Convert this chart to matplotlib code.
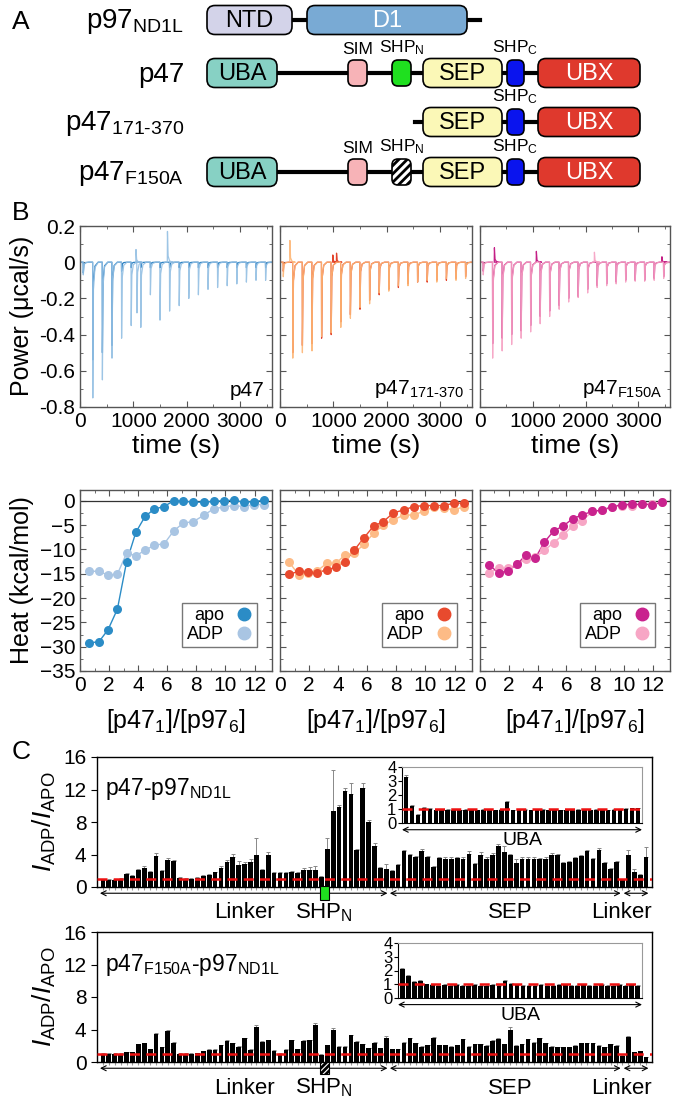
import numpy as np
import matplotlib
matplotlib.use('Agg')
import matplotlib.pyplot as plt
import matplotlib.transforms as mtransforms
from matplotlib.patches import FancyBboxPatch, Rectangle
from matplotlib.lines import Line2D

plt.rcParams['font.family'] = ['Liberation Sans', 'DejaVu Sans']
plt.rcParams['mathtext.fontset'] = 'custom'
plt.rcParams['mathtext.rm'] = 'Liberation Sans'
plt.rcParams['mathtext.it'] = 'Liberation Sans:italic'
plt.rcParams['mathtext.bf'] = 'Liberation Sans:bold'
plt.rcParams['hatch.linewidth'] = 2.0

W, H = 677, 1104

# ---------------- data ----------------
# panel A: construct labels and domains (diagram units = pixels)
row_labels = ['p97$_{\\mathrm{ND1L}}$', 'p47', 'p47$_{\\mathrm{171\u2010370}}$', 'p47$_{\\mathrm{F150A}}$']
p97_domains = [('NTD', 207, 292, '#d3d3e9', 'black'), ('D1', 307, 467, '#79aad4', 'white')]
p47_domains = [('UBA', 207, 277, '#87d1c4', 'black'), ('SIM', 348, 367, '#f7b3b7', None),
               ('SHPN', 392, 411, '#1fe01f', None), ('SEP', 423, 502, '#fbf8b7', 'black'),
               ('SHPC', 507, 524, '#0a14ee', None), ('UBX', 538, 640, '#df392d', 'white')]

# panel B top: thermogram injections (time s, peak power ucal/s)
inj_t = [62, 240, 420, 600, 780, 960, 1140, 1320, 1500, 1680, 1860, 2040, 2220, 2400, 2580, 2760, 2940, 3120, 3300, 3480]
p47_adp_pk = [-0.07, -0.75, -0.65, -0.53, -0.42, -0.35, -0.36, -0.18, -0.32, -0.27, -0.24, -0.20, -0.18, -0.15, -0.14, -0.13, -0.12, -0.11, -0.10, -0.10]
p47_adp_extra = [(1050, 0.07), (1068, -0.28), (1640, 0.17)]
p47_apo_pk = [-0.06, -0.54, -0.50, -0.46, -0.05, -0.03, -0.03, -0.03, -0.03, -0.03, -0.03, -0.03, -0.03, -0.03, -0.03, -0.03, -0.03, -0.03, -0.03, -0.03]
p171_adp_pk = [-0.08, -0.53, -0.50, -0.49, -0.41, -0.39, -0.36, -0.31, -0.25, -0.23, -0.17, -0.16, -0.13, -0.13, -0.11, -0.10, -0.11, -0.09, -0.10, -0.09]
p171_adp_extra = [(186, 0.12)]
p171_apo_pk = [-0.05, -0.50, -0.46, -0.45, -0.42, -0.40, -0.33, -0.29, -0.26, -0.21, -0.18, -0.15, -0.14, -0.12, -0.11, -0.11, -0.10, -0.10, -0.09, -0.08]
p171_apo_extra = [(990, 0.04), (1060, 0.05)]
f150_adp_pk = [-0.07, -0.53, -0.49, -0.455, -0.42, -0.385, -0.34, -0.30, -0.26, -0.22, -0.195, -0.17, -0.14, -0.13, -0.12, -0.11, -0.105, -0.105, -0.10, -0.09]
f150_adp_extra = [(2168, 0.055)]
f150_apo_pk = [-0.05, -0.45, -0.42, -0.40, -0.38, -0.35, -0.30, -0.27, -0.24, -0.20, -0.19, -0.15, -0.13, -0.12, -0.11, -0.10, -0.10, -0.10, -0.09, -0.08]
f150_apo_extra = [(273, 0.08), (1068, 0.06), (3447, 0.03)]

# panel B bottom: integrated heats (kcal/mol) vs molar ratio
ratio = [0.65, 1.3, 1.93, 2.57, 3.2, 3.84, 4.48, 5.12, 5.78, 6.44, 7.1, 7.8, 8.5, 9.2, 9.88, 10.56, 11.26, 11.96, 12.66]
p47_apo = [-29.2, -29.0, -26.5, -22.3, -12.6, -6.5, -3.2, -1.7, -1.2, 0.0, -0.1, -0.3, -0.3, -0.15, 0.0, 0.1, -0.3, -0.2, 0.1]
p47_adp = [-14.5, -14.5, -15.3, -15.1, -10.8, -11.3, -10.2, -9.1, -8.9, -6.2, -4.6, -4.3, -3.0, -1.65, -1.3, -1.0, -1.2, -0.8, -0.8]
p171_apo = [-15.1, -14.5, -14.6, -14.8, -14.2, -13.7, -12.5, -10.1, -7.6, -5.2, -4.3, -2.5, -1.9, -1.2, -1.0, -1.0, -1.0, -0.5, -0.5]
p171_adp = [-12.7, -15.3, -14.8, -14.4, -12.9, -12.9, -11.1, -10.8, -8.9, -6.7, -5.0, -3.9, -3.0, -2.9, -2.2, -1.3, -1.5, -1.9, -1.2]
f150_apo = [-13.2, -14.9, -14.4, -13.1, -11.1, -11.8, -8.5, -6.2, -5.2, -3.7, -2.9, -2.2, -1.9, -1.2, -0.8, -0.75, -0.75, -0.8, -0.35]
f150_adp = [-14.8, -13.9, -13.9, -13.1, -12.0, -11.6, -10.2, -8.6, -7.0, -5.2, -4.1, -2.2, -2.0, -1.3, -1.0, -1.0, -0.75, -0.6, -0.35]

# panel C: intensity ratios per residue
wt_ratio = [0.9, 0.9, 0.9, 1.0, 1.6, 1.4, 2.1, 2.4, 1.9, 3.8,
            2.0, 3.3, 3.2, 1.1, 1.0, 1.0, 1.1, 1.4, 1.5, 1.8,
            2.4, 3.1, 3.7, 2.7, 2.8, 3.1, 3.9, 2.1, 4.0, 1.7,
            1.7, 1.7, 1.8, 1.7, 2.1, 2.1, 2.1, 1.2, 4.7, 9.4,
            9.9, 11.8, 11.4, 4.5, 12.2, 8.0, 5.0, 2.4, 2.2, 2.0,
            2.7, 4.4, 3.9, 3.7, 4.4, 3.7, 2.5, 3.6, 3.5, 3.5,
            3.6, 3.5, 4.1, 2.8, 4.0, 3.5, 4.0, 5.1, 4.3, 3.9,
            2.9, 3.5, 3.5, 3.5, 3.4, 3.5, 4.0, 3.9, 3.0, 3.1,
            3.6, 3.8, 4.4, 3.4, 4.5, 3.0, 2.2, 3.1, 0.9, 4.0,
            1.8, 1.5, 3.7]
wt_err = [0.1, 0.1, 0.1, 0.1, 0.1, 0.1, 0.1, 0.15, 0.1, 0.35,
          0.1, 0.3, 0.1, 0.1, 0.1, 0.1, 0.1, 0.1, 0.1, 0.1,
          0.15, 0.2, 0.4, 0.45, 0.3, 0.35, 2.1, 0.1, 0.3, 0.1,
          0.1, 0.1, 0.15, 0.1, 0.3, 0.35, 0.45, 0.15, 1.3, 5.0,
          0.25, 0.4, 1.4, 0.15, 0.6, 0.2, 0.4, 0.1, 0.6, 0.1,
          0.1, 0.2, 0.15, 0.1, 0.3, 0.15, 0.1, 0.15, 0.15, 0.15,
          0.15, 0.15, 0.3, 0.1, 0.3, 0.2, 0.15, 0.2, 0.8, 0.2,
          0.6, 0.15, 0.15, 0.15, 0.2, 0.15, 0.2, 0.15, 0.1, 0.1,
          0.15, 0.2, 0.2, 0.15, 0.3, 0.1, 0.1, 0.1, 0.0, 0.6,
          0.4, 0.1, 1.2]
mut_ratio = [1.0, 1.0, 1.0, 1.0, 1.2, 1.2, 2.2, 2.3, 1.6, 3.5,
             1.8, 3.8, 2.4, 1.0, 1.0, 1.0, 1.1, 1.3, 1.5, 1.5,
             2.1, 2.6, 2.3, 1.9, 2.9, 1.5, 4.3, 2.5, 2.7, 1.4,
             1.0, 1.5, 2.7, 1.6, 2.6, 2.7, 4.5, 0.9, 2.1, 3.9,
             1.9, 1.9, 3.3, 2.5, 2.2, 1.7, 2.4, 1.7, 3.0, 1.6,
             1.6, 2.4, 2.9, 2.3, 1.9, 2.1, 3.0, 2.1, 2.1, 1.9,
             2.1, 2.8, 1.9, 2.2, 2.2, 2.0, 2.6, 2.8, 2.2, 3.9,
             2.0, 2.2, 2.8, 2.4, 2.9, 2.3, 1.9, 1.8, 1.8, 1.8,
             2.0, 2.3, 2.3, 2.3, 2.0, 1.8, 2.2, 2.0, 0.8, 3.1,
             1.2, 1.3, 0.6]
mut_err = [0.05, 0.05, 0.05, 0.05, 0.05, 0.05, 0.05, 0.05, 0.05, 0.05,
           0.05, 0.1, 0.05, 0.05, 0.05, 0.05, 0.05, 0.05, 0.05, 0.05,
           0.05, 0.05, 0.05, 0.05, 0.05, 0.05, 0.3, 0.05, 0.05, 0.05,
           0.05, 0.05, 0.05, 0.05, 0.05, 0.05, 0.35, 0.05, 0.05, 0.25,
           0.05, 0.05, 0.05, 0.05, 0.05, 0.05, 0.05, 0.05, 0.2, 0.05,
           0.05, 0.05, 0.05, 0.05, 0.05, 0.05, 0.05, 0.05, 0.05, 0.05,
           0.05, 0.05, 0.05, 0.05, 0.05, 0.05, 0.05, 0.15, 0.05, 0.35,
           0.05, 0.05, 0.05, 0.05, 0.05, 0.05, 0.05, 0.05, 0.05, 0.05,
           0.05, 0.05, 0.05, 0.05, 0.05, 0.05, 0.05, 0.05, 0.05, 0.05,
           0.05, 0.05, 0.05]
wt_uba = [3.3, 1.2, 0.6, 1.1, 1.0, 0.9, 0.9, 0.95, 0.95, 0.9,
          0.95, 0.95, 0.9, 0.95, 0.95, 0.9, 0.95, 1.5, 0.9, 0.9,
          0.95, 0.9, 0.9, 0.95, 0.9, 0.95, 0.9, 0.9, 0.95, 0.95,
          0.9, 0.9, 0.95, 0.9, 0.9, 0.95, 0.9, 1.0, 1.05, 1.05]
wt_uba_err = [0.15, 0.08] + [0.04] * 38
mut_uba = [2.1, 1.6, 1.2, 1.25, 1.0, 0.95, 0.9, 0.95, 0.9, 0.95,
           0.9, 0.9, 0.95, 0.9, 0.9, 0.95, 0.9, 1.25, 1.05, 0.95,
           0.9, 0.9, 0.9, 0.95, 0.9, 0.9, 0.95, 0.95, 0.9, 0.9,
           0.95, 0.9, 0.9, 0.95, 0.9, 0.9, 0.95, 0.9, 0.95, 0.9]
mut_uba_err = [0.05] * 40
regions = [('Linker', 0.5, 49.2, 25), ('SEP', 49.6, 88.7, 70), ('Linker', 89.2, 93.4, 88.8)]
shpn_pos = 38.5


def frac(x0, y0, x1, y1):
    return [x0 / W, 1 - y1 / H, (x1 - x0) / W, (y1 - y0) / H]


fig = plt.figure(figsize=(W / 100, H / 100), dpi=100)

# ---------------- panel A ----------------
axA = fig.add_axes([0, 1 - 215 / H, 1, 215 / H])
axA.set_xlim(0, W)
axA.set_ylim(215, 0)
axA.axis('off')


def draw_box(ax, x0, x1, yc, color, small=False, hatch=None):
    hh = 13 if small else 14.5
    box = FancyBboxPatch((x0, yc - hh), x1 - x0, 2 * hh,
                         boxstyle='round,pad=0,rounding_size=%d' % (6 if small else 8),
                         facecolor=color, edgecolor='black', lw=1.2, hatch=hatch, zorder=3)
    ax.add_patch(box)


small_names = {'SIM', 'SHPN', 'SHPC'}
label_text = {'SIM': 'SIM', 'SHPN': 'SHP$_{\\mathrm{N}}$', 'SHPC': 'SHP$_{\\mathrm{C}}$'}
row_y = [20, 73, 122, 172]

for lab, yc in zip(row_labels, row_y):
    axA.text(184, yc + 2, lab, ha='right', va='center', fontsize=20)

# p97
axA.plot([292, 480], [row_y[0], row_y[0]], color='black', lw=3, zorder=1)
for name, x0, x1, col, tc in p97_domains:
    draw_box(axA, x0, x1, row_y[0], col)
    axA.text((x0 + x1) / 2, row_y[0] + 1, name, ha='center', va='center', fontsize=17, color=tc, zorder=4)

# p47 rows
for ri, keep, hatch_shpn in [(1, None, False), (2, {'SEP', 'SHPC', 'UBX'}, False), (3, None, True)]:
    yc = row_y[ri]
    start = 277 if keep is None else 415
    axA.plot([start, 538], [yc, yc], color='black', lw=3, zorder=1)
    for name, x0, x1, col, tc in p47_domains:
        if keep is not None and name not in keep:
            continue
        small = name in small_names
        if name == 'SHPN' and hatch_shpn:
            draw_box(axA, x0, x1, yc, 'white', small=True, hatch='////')
        else:
            draw_box(axA, x0, x1, yc, col, small=small)
        if small:
            axA.text((x0 + x1) / 2, yc - 16, label_text[name], ha='center', va='bottom', fontsize=12.5)
        else:
            axA.text((x0 + x1) / 2, yc + 1, name, ha='center', va='center', fontsize=17, color=tc, zorder=4)

fig.text(12 / W, 1 - 22 / H, 'A', fontsize=19, va='center')
fig.text(12 / W, 1 - 213 / H, 'B', fontsize=19, va='center')
fig.text(12 / W, 1 - 752 / H, 'C', fontsize=19, va='center')

# ---------------- panel B ----------------
cols = [80, 272], [280, 472], [480, 670]
names_B = ['p47', 'p47$_{\\mathrm{171\u2010370}}$', 'p47$_{\\mathrm{F150A}}$']
light = ['#93bfe3', '#fdb574', '#f6a0c2']
dark = ['#2a80c2', '#e3442c', '#c41f86']
adp_pk = [p47_adp_pk, p171_adp_pk, f150_adp_pk]
adp_extra = [p47_adp_extra, p171_adp_extra, f150_adp_extra]
apo_pk = [p47_apo_pk, p171_apo_pk, f150_apo_pk]
apo_extra = [[], p171_apo_extra, f150_apo_extra]
heat_apo = [p47_apo, p171_apo, f150_apo]
heat_adp = [p47_adp, p171_adp, f150_adp]
heat_apo_c = ['#2b8cc6', '#e84a2e', '#c9238e']
heat_adp_c = ['#a9c5e3', '#fdbb86', '#f7a6c5']


def trace(times, peaks, extra, t_end=3600):
    ev = sorted(list(zip(times, peaks)) + list(extra))
    xs, ys = [0], [0]
    for t, d in ev:
        xs += [t - 3, t, t + 12, t + 40, t + 100]
        ys += [0, d, d * 0.2, d * 0.04, 0]
    xs.append(t_end)
    ys.append(0)
    return xs, ys


def style_axes(ax):
    for s in ax.spines.values():
        s.set_color('#555555')
        s.set_linewidth(1.0)
    ax.tick_params(which='both', direction='in', top=True, right=True, colors='#555555',
                   labelcolor='black', labelsize=15)
    ax.tick_params(which='major', length=4)
    ax.tick_params(which='minor', length=2)


for i in range(3):
    x0, x1 = cols[i]
    ax = fig.add_axes(frac(x0, 226, x1, 407))
    ax.plot(*trace(inj_t, apo_pk[i], apo_extra[i]), color=dark[i], lw=0.9)
    ax.plot(*trace(inj_t, adp_pk[i], adp_extra[i]), color=light[i], lw=0.9, alpha=0.9)
    ax.set_xlim(0, 3600)
    ax.set_ylim(-0.8, 0.2)
    ax.set_xticks([0, 1000, 2000, 3000])
    ax.set_xticks(np.arange(500, 3600, 1000), minor=True)
    ax.set_yticks(np.arange(-0.8, 0.21, 0.2))
    ax.set_yticks(np.arange(-0.7, 0.2, 0.2), minor=True)
    ax.set_yticklabels(['-0.8', '-0.6', '-0.4', '-0.2', '0', '0.2'])
    style_axes(ax)
    if i > 0:
        ax.tick_params(labelleft=False)
    ax.set_xlabel('time (s)', fontsize=19, labelpad=2)
    ax.text(0.96, 0.04, names_B[i], transform=ax.transAxes, ha='right', va='bottom', fontsize=15)

    axh = fig.add_axes(frac(x0, 490, x1, 671))
    axh.axhline(0, color='#333333', lw=0.9)
    axh.plot(ratio, heat_adp[i], '-', color=heat_adp_c[i], lw=1.0)
    axh.plot(ratio, heat_apo[i], '-', color=heat_apo_c[i], lw=1.0)
    axh.plot(ratio, heat_adp[i], 'o', color=heat_adp_c[i], ms=6.5, mec='none')
    axh.plot(ratio, heat_apo[i], 'o', color=heat_apo_c[i], ms=6.5, mec='none')
    axh.set_xlim(0, 13.2)
    axh.set_ylim(-35, 2.2)
    axh.set_xticks(np.arange(0, 13, 2))
    axh.set_xticks(np.arange(1, 13, 2), minor=True)
    axh.set_yticks(np.arange(-35, 1, 5))
    axh.set_yticks(np.arange(-32.5, 1, 5), minor=True)
    style_axes(axh)
    if i > 0:
        axh.tick_params(labelleft=False)
    axh.set_xlabel('[p47$_1$]/[p97$_6$]', fontsize=18, labelpad=9)
    hd = [Line2D([], [], marker='o', ls='', color=heat_apo_c[i], ms=9),
          Line2D([], [], marker='o', ls='', color=heat_adp_c[i], ms=9)]
    leg = axh.legend(hd, ['apo', 'ADP'], loc='lower right', markerfirst=False, fontsize=13,
                     fancybox=False, edgecolor='#777777', framealpha=1, borderpad=0.25,
                     labelspacing=0.1, handletextpad=0.6, handlelength=1.0,
                     bbox_to_anchor=(0.97, 0.08))
    leg.get_frame().set_linewidth(1.0)

fig.text(22 / W, 1 - 316 / H, 'Power (\u03bccal/s)', rotation=90, ha='center', va='center', fontsize=18)
fig.text(22 / W, 1 - 580 / H, 'Heat (kcal/mol)', rotation=90, ha='center', va='center', fontsize=18)

# ---------------- panel C ----------------


def profile(box, vals, errs, title, inset_box, ivals, ierrs, hatch):
    ax = fig.add_axes(frac(*box))
    n = len(vals)
    x = np.arange(1, n + 1)
    ax.bar(x, vals, width=0.8, color='black', zorder=2)
    ax.errorbar(x, vals, yerr=[np.zeros(n), errs], fmt='none', ecolor='#888888',
                elinewidth=0.7, capsize=1.3, capthick=0.7, zorder=1)
    ax.axhline(1, color='#ee1111', lw=1.8, ls=(0, (4, 2.5)), zorder=3)
    ax.set_xlim(0, 94)
    ax.set_ylim(0, 16)
    ax.set_yticks([0, 4, 8, 12, 16])
    ax.set_xticks(x)
    ax.tick_params(axis='x', length=2, color='#999999', labelbottom=False)
    ax.tick_params(axis='y', labelsize=15, length=4)
    for s in ax.spines.values():
        s.set_linewidth(1.0)
    ax.text(0.014, 0.75, title, transform=ax.transAxes, ha='left', va='center', fontsize=16.5)
    ax.set_ylabel('$I_{\\mathrm{ADP}}/I_{\\mathrm{APO}}$', fontsize=19, labelpad=4)
    tr = mtransforms.blended_transform_factory(ax.transData, ax.transAxes)
    for name, a, b, lx in regions:
        ax.annotate('', xy=(b, -0.048), xytext=(a, -0.048), xycoords=tr, textcoords=tr,
                    arrowprops=dict(arrowstyle='<->', lw=0.8, color='black',
                                    shrinkA=0, shrinkB=0, mutation_scale=9))
        ax.text(lx, -0.2, name, transform=tr, ha='center', va='center', fontsize=16, clip_on=False)
    ax.text(shpn_pos, -0.2, 'SHP$_{\\mathrm{N}}$', transform=tr, ha='center', va='center', fontsize=16)
    if hatch:
        r = Rectangle((shpn_pos - 0.75, -0.095), 1.5, 0.095, transform=tr, facecolor='white',
                      edgecolor='black', lw=0.8, hatch='//////', clip_on=False, zorder=5)
    else:
        r = Rectangle((shpn_pos - 0.8, -0.1), 1.6, 0.105, transform=tr, facecolor='#1fe01f',
                      edgecolor='black', lw=0.8, clip_on=False, zorder=5)
    ax.add_patch(r)

    axi = fig.add_axes(frac(*inset_box))
    m = len(ivals)
    xi = np.arange(1, m + 1)
    axi.bar(xi, ivals, width=0.78, color='black', zorder=2)
    axi.errorbar(xi, ivals, yerr=[np.zeros(m), ierrs], fmt='none', ecolor='#888888',
                 elinewidth=0.7, capsize=1.2, capthick=0.7, zorder=1)
    axi.axhline(1, color='#ee1111', lw=1.8, ls=(0, (4, 2.5)), zorder=3)
    axi.set_xlim(0.3, m + 0.7)
    axi.set_ylim(0, 4)
    axi.set_yticks([0, 1, 2, 3, 4])
    axi.set_xticks([])
    axi.tick_params(axis='y', labelsize=12, length=3, pad=1)
    axi.spines['top'].set_color('#999999')
    axi.spines['right'].set_color('#999999')
    axi.annotate('', xy=(1, -0.12), xytext=(0, -0.12), xycoords='axes fraction',
                 arrowprops=dict(arrowstyle='<->', lw=0.8, color='black',
                                 shrinkA=0, shrinkB=0, mutation_scale=9))
    axi.text(0.5, -0.32, 'UBA', transform=axi.transAxes, ha='center', va='center', fontsize=14)


profile((97, 757, 652, 887), wt_ratio, wt_err, 'p47-p97$_{\\mathrm{ND1L}}$',
        (402, 767, 642, 823), wt_uba, wt_uba_err, False)
profile((97, 932, 652, 1062), mut_ratio, mut_err, 'p47$_{\\mathrm{F150A}}$-p97$_{\\mathrm{ND1L}}$',
        (398, 943, 642, 998), mut_uba, mut_uba_err, True)

fig.savefig('out.png', dpi=100)
